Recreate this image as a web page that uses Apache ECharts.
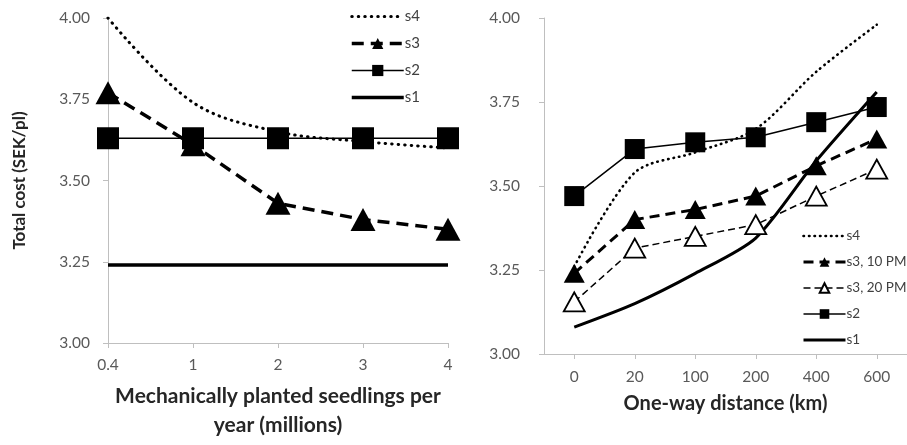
<!DOCTYPE html>
<html><head><meta charset="utf-8">
<script src="https://cdn.jsdelivr.net/npm/echarts@6/dist/echarts.min.js"></script>
<style>html,body{margin:0;padding:0;background:#fff}#c{width:907px;height:445px}</style>
</head><body><div id="c"></div>
<script>
// Left panel: mechanically planted seedlings per year (millions)
const leftCategories = ['0.4', '1', '2', '3', '4'];
const leftS4 = [4.00, 3.74, 3.65, 3.62, 3.60];
const leftS3 = [3.77, 3.61, 3.43, 3.38, 3.35];
const leftS2 = [3.63, 3.63, 3.63, 3.63, 3.63];
const leftS1 = [3.24, 3.24, 3.24, 3.24, 3.24];
// Right panel: one-way distance (km)
const rightCategories = ['0', '20', '100', '200', '400', '600'];
const rightS4 = [3.26, 3.54, 3.60, 3.67, 3.84, 3.98];
const rightS3_10 = [3.24, 3.40, 3.43, 3.47, 3.56, 3.64];
const rightS3_20 = [3.155, 3.315, 3.35, 3.385, 3.47, 3.55];
const rightS2 = [3.47, 3.61, 3.63, 3.645, 3.69, 3.735];
const rightS1 = [3.08, 3.15, 3.24, 3.345, 3.575, 3.78];
const yTicks = ['3.00', '3.25', '3.50', '3.75', '4.00'];

const FONT = 'Lato';
const axisGray = '#bfbfbf';
const labelGray = '#595959';
const titleStyle = {fontFamily: FONT, fontWeight: 'bold', fontSize: 21, color: '#262626'};

function yAxis(idx, name, margin) {
  return {
    type: 'value', gridIndex: idx, min: 3, max: 4, interval: 0.25,
    name: name, nameLocation: 'middle', nameRotate: 90, nameGap: 80,
    nameTextStyle: Object.assign({}, titleStyle, {fontSize: 17}),
    axisLine: {show: true, lineStyle: {color: axisGray, width: 1}},
    axisTick: {show: true, length: 5, lineStyle: {color: axisGray}},
    splitLine: {show: false},
    axisLabel: {margin: margin, fontFamily: FONT, fontSize: 15.5, color: labelGray,
      formatter: v => yTicks[Math.round((v - 3) / 0.25)]}
  };
}
const noSym = {itemStyle: {opacity: 0}};

const opt = {
  animation: false,
  textStyle: {fontFamily: FONT},
  grid: [
    {left: 108, top: 18, width: 340, height: 337},
    {left: 544, top: 18, right: -7, height: 336}
  ],
  xAxis: [
    {type: 'category', gridIndex: 0, data: leftCategories, boundaryGap: false,
      name: 'Mechanically planted seedlings per\nyear (millions)', nameLocation: 'middle', nameGap: 39,
      nameTextStyle: Object.assign({lineHeight: 29, verticalAlign: 'top'}, titleStyle),
      axisLine: {lineStyle: {color: axisGray}},
      axisTick: {show: true, length: 5, lineStyle: {color: axisGray}},
      axisLabel: {margin: 14, fontFamily: FONT, fontSize: 15.5, color: labelGray}},
    {type: 'category', gridIndex: 1, data: rightCategories, boundaryGap: true,
      name: 'One-way distance (km)', nameLocation: 'middle', nameGap: 40,
      nameTextStyle: Object.assign({verticalAlign: 'top'}, titleStyle, {fontSize: 20}),
      axisLine: {lineStyle: {color: axisGray}},
      axisTick: {show: true, alignWithLabel: true, length: 5, lineStyle: {color: axisGray}},
      axisLabel: {margin: 15, fontFamily: FONT, fontSize: 15.5, color: labelGray}}
  ],
  yAxis: [yAxis(0, 'Total cost (SEK/pl)', 18), yAxis(1, '', 24)],
  legend: [
    {data: [Object.assign({name: 'L:s4'}, noSym), 'L:s3', 'L:s2', Object.assign({name: 'L:s1'}, noSym)],
      orient: 'vertical', left: 345, top: 4,
      itemWidth: 52, itemHeight: 14, itemGap: 12, selectedMode: false,
      lineStyle: {width: 'inherit'},
      formatter: n => n.slice(2),
      textStyle: {fontFamily: FONT, fontSize: 15, color: '#404040', padding: [0, 0, 0, -4]}},
    {data: [Object.assign({name: 'R:s4'}, noSym), 'R:s3, 10 PM', 'R:s3, 20 PM', 'R:s2', Object.assign({name: 'R:s1'}, noSym)],
      orient: 'vertical', left: 797, top: 224,
      itemWidth: 42, itemHeight: 12, itemGap: 12, selectedMode: false,
      lineStyle: {width: 'inherit'},
      formatter: n => n.slice(2),
      textStyle: {fontFamily: FONT, fontSize: 13.5, color: '#404040', padding: [0, 0, 0, -4]}}
  ],
  series: [
    {name: 'L:s4', type: 'line', xAxisIndex: 0, yAxisIndex: 0, data: leftS4, smooth: 0.35,
      symbol: 'none', itemStyle: {color: '#000'},
      lineStyle: {color: '#000', width: 3, type: [0.5, 6], cap: 'round'}, z: 3},
    {name: 'L:s3', type: 'line', xAxisIndex: 0, yAxisIndex: 0, data: leftS3,
      symbol: 'triangle', symbolSize: [25, 23], itemStyle: {color: '#000'},
      lineStyle: {color: '#000', width: 3.5, type: [12, 7]}, z: 4},
    {name: 'L:s2', type: 'line', xAxisIndex: 0, yAxisIndex: 0, data: leftS2,
      symbol: 'rect', symbolSize: 22, itemStyle: {color: '#000'},
      lineStyle: {color: '#000', width: 1.5}, z: 5},
    {name: 'L:s1', type: 'line', xAxisIndex: 0, yAxisIndex: 0, data: leftS1,
      symbol: 'none', itemStyle: {color: '#000'},
      lineStyle: {color: '#000', width: 3.5}, z: 2},

    {name: 'R:s4', type: 'line', xAxisIndex: 1, yAxisIndex: 1, data: rightS4, smooth: 0.3,
      symbol: 'none', itemStyle: {color: '#000'},
      lineStyle: {color: '#000', width: 2.6, type: [0.5, 5], cap: 'round'}, z: 3},
    {name: 'R:s3, 10 PM', type: 'line', xAxisIndex: 1, yAxisIndex: 1, data: rightS3_10,
      symbol: 'triangle', symbolSize: [21, 19], itemStyle: {color: '#000'},
      lineStyle: {color: '#000', width: 3, type: [10, 6]}, z: 4},
    {name: 'R:s3, 20 PM', type: 'line', xAxisIndex: 1, yAxisIndex: 1, data: rightS3_20,
      symbol: 'triangle', symbolSize: [21, 19], itemStyle: {color: '#fff', borderColor: '#000', borderWidth: 1.8},
      lineStyle: {color: '#000', width: 1.5, type: [7, 4]}, z: 4},
    {name: 'R:s2', type: 'line', xAxisIndex: 1, yAxisIndex: 1, data: rightS2,
      symbol: 'rect', symbolSize: 20, itemStyle: {color: '#000'},
      lineStyle: {color: '#000', width: 1.5}, z: 5},
    {name: 'R:s1', type: 'line', xAxisIndex: 1, yAxisIndex: 1, data: rightS1, smooth: 0.25,
      symbol: 'none', itemStyle: {color: '#000'},
      lineStyle: {color: '#000', width: 3}, z: 2}
  ]
};
const chart = echarts.init(document.getElementById('c'), null, {renderer: 'canvas'});
chart.setOption(opt);
</script></body></html>
